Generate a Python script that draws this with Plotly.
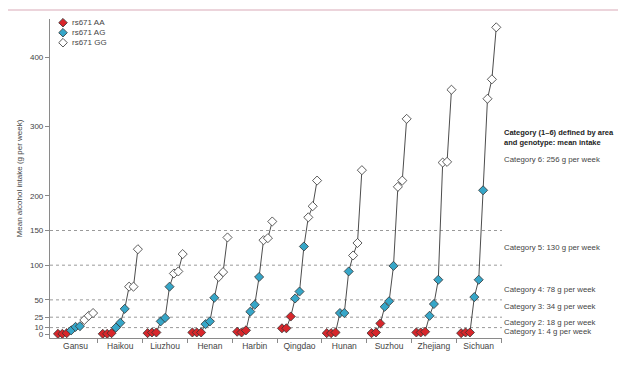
import plotly.graph_objects as go

regions = ["Gansu", "Haikou", "Liuzhou", "Henan", "Harbin",
           "Qingdao", "Hunan", "Suzhou", "Zhejiang", "Sichuan"]
genotypes = ["rs671 AA", "rs671 AG", "rs671 GG"]

# mean intake (g per week), three points per genotype within each area
aa_vals = [[1, 1, 2], [1, 1, 2], [2, 3, 3], [3, 3, 3], [4, 3, 6],
           [9, 9, 26], [2, 2, 3], [2, 3, 16], [3, 3, 4], [2, 3, 3]]
ag_vals = [[6, 11, 12], [10, 17, 37], [19, 24, 69], [15, 19, 53], [33, 43, 83],
           [52, 62, 127], [31, 31, 91], [40, 48, 99], [27, 44, 79], [54, 79, 208]]
gg_vals = [[21, 27, 31], [69, 69, 123], [88, 91, 116], [83, 90, 140], [136, 139, 163],
           [169, 185, 222], [114, 132, 237], [213, 222, 311], [248, 249, 353], [340, 368, 443]]

ytick_vals = [0, 10, 25, 50, 100, 150, 200, 300, 400]
grid_vals = [10, 25, 50, 100, 150]

cat_labels = ["Category 6: 256 g per week", "Category 5: 130 g per week",
              "Category 4: 78 g per week", "Category 3: 34 g per week",
              "Category 2: 18 g per week", "Category 1: 4 g per week"]
cat_label_y = [252, 125, 64.5, 40.5, 17.5, 5]

FONT = "Liberation Sans, Arial, sans-serif"
colors = ["#d8262b", "#36a6c8", "#ffffff"]
step = 0.098

# page has an 8px body margin; figure sized to fit the window
OFF = 8
W, H = 630 - OFF, 365 - OFF
ML, MR, MT, MB = 50 - OFF, 128, 19 - OFF, 27
PW, PH = W - ML - MR, H - MT - MB


def px_x(px):
    return (px - OFF - ML) / PW


def px_y(py):
    return (H - MB - (py - OFF)) / PH


fig = go.Figure()

series = [aa_vals, ag_vals, gg_vals]
for i, r in enumerate(regions):
    ys = aa_vals[i] + ag_vals[i] + gg_vals[i]
    xs = [i + (j - 4) * step for j in range(len(ys))]
    fig.add_trace(go.Scatter(x=xs, y=ys, mode="lines",
                             line=dict(color="#4d4d4d", width=1),
                             showlegend=False, hoverinfo="skip"))

for k, (name, vals) in enumerate(zip(genotypes, series)):
    xs, ys = [], []
    for i in range(len(regions)):
        for j, v in enumerate(vals[i]):
            xs.append(i + (3 * k + j - 4) * step)
            ys.append(v)
    fig.add_trace(go.Scatter(x=xs, y=ys, mode="markers", name=name, showlegend=False,
                             marker=dict(symbol="diamond", size=7, color=colors[k],
                                         line=dict(color="#333333", width=0.8))))

shapes = []
for g in grid_vals:
    shapes.append(dict(type="line", xref="paper", x0=0, x1=1, yref="y", y0=g, y1=g,
                       line=dict(color="#9a9a9a", width=1, dash="dot"), layer="below"))
# thin rule across the top of the figure
shapes.append(dict(type="line", xref="paper", x0=px_x(8), x1=px_x(618), yref="paper",
                   y0=px_y(10), y1=px_y(10), line=dict(color="#e6c6cf", width=1.5)))

annotations = []
# legend key (diamond symbols + labels)
leg_rows = [22.7, 32.7, 42.7]
for k, name in enumerate(genotypes):
    shapes.append(dict(type="path", xref="paper", yref="paper",
                       xsizemode="pixel", ysizemode="pixel",
                       xanchor=px_x(63), yanchor=px_y(leg_rows[k]),
                       path="M 0 4.3 L 4.3 0 L 0 -4.3 L -4.3 0 Z",
                       fillcolor=colors[k], line=dict(color="#333333", width=0.8)))
    annotations.append(dict(text=name, xref="paper", x=px_x(70), xanchor="left",
                            yref="paper", y=px_y(leg_rows[k]), yanchor="middle",
                            showarrow=False, font=dict(size=8, color="#444", family=FONT)))

annotations.append(
    dict(text="<b>Category (1–6) defined by area<br>and genotype: mean intake</b>",
         xref="paper", x=px_x(502), xanchor="left", yref="y", y=284, yanchor="middle",
         showarrow=False, align="left", font=dict(size=7.5, color="#222", family=FONT)))
for t, yv in zip(cat_labels, cat_label_y):
    annotations.append(dict(text=t, xref="paper", x=px_x(502), xanchor="left", yref="y", y=yv,
                            yanchor="middle", showarrow=False, align="left",
                            font=dict(size=7.8, color="#444", family=FONT)))

fig.update_layout(
    width=W, height=H, autosize=False,
    margin=dict(l=ML, r=MR, t=MT, b=MB, autoexpand=False),
    paper_bgcolor="white", plot_bgcolor="white",
    font=dict(family=FONT, size=8, color="#444"),
    shapes=shapes, annotations=annotations, showlegend=False,
    xaxis=dict(range=[-0.57, 9.52], tickmode="array", automargin=False,
               tickvals=list(range(len(regions))), ticktext=regions,
               ticks="", showline=True, linecolor="#8a8a8a", linewidth=1.2,
               showgrid=False, zeroline=False,
               tickfont=dict(size=8.5, color="#444", family=FONT),
               minor=dict(tickmode="array", tickvals=[i + 0.5 for i in range(len(regions))],
                          ticks="outside", ticklen=4, tickcolor="#8a8a8a", tickwidth=1,
                          showgrid=False)),
    yaxis=dict(range=[-5, 455], tickmode="array", tickvals=ytick_vals, automargin=False,
               ticktext=[str(v) for v in ytick_vals],
               ticks="outside", ticklen=4, tickcolor="#8a8a8a", tickwidth=1,
               showline=True, linecolor="#8a8a8a", linewidth=1.2,
               showgrid=False, zeroline=False,
               tickfont=dict(size=8, color="#444", family=FONT),
               title=dict(text="Mean alcohol intake (g per week)", standoff=6,
                          font=dict(size=8, color="#444", family=FONT))),
)

fig.write_html("out.html")
